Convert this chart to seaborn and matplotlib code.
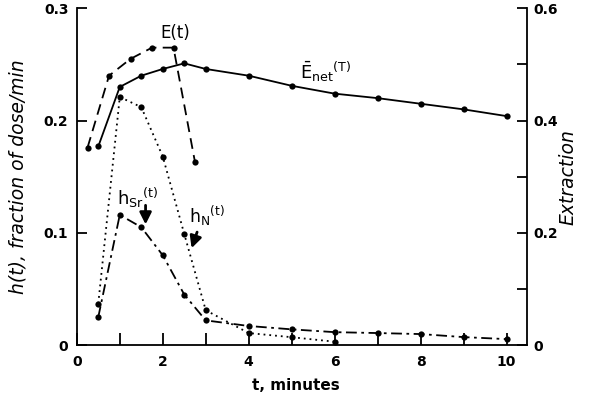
import matplotlib
matplotlib.use("Agg")
import matplotlib.pyplot as plt
import seaborn as sns

# === Data ===
# E(t), extraction (right axis)
t_E = [0.25, 0.75, 1.25, 1.75, 2.25, 2.75]
E_t = [0.352, 0.48, 0.51, 0.53, 0.53, 0.326]

# E_net(T), extraction (right axis)
t_Enet = [0.5, 1.0, 1.5, 2.0, 2.5, 3.0, 4.0, 5.0, 6.0, 7.0, 8.0, 9.0, 10.0]
E_net = [0.354, 0.46, 0.48, 0.492, 0.502, 0.492, 0.48, 0.462, 0.448, 0.44, 0.43, 0.42, 0.408]

# h_N(t), fraction of dose/min (left axis)
t_hN = [0.5, 1.0, 1.5, 2.0, 2.5, 3.0, 4.0, 5.0, 6.0]
h_N = [0.037, 0.221, 0.212, 0.168, 0.099, 0.031, 0.0107, 0.007, 0.003]

# h_Sr(t), fraction of dose/min (left axis)
t_hSr = [0.5, 1.0, 1.5, 2.0, 2.5, 3.0, 4.0, 5.0, 6.0, 7.0, 8.0, 9.0, 10.0]
h_Sr = [0.025, 0.116, 0.105, 0.080, 0.045, 0.022, 0.017, 0.014, 0.0115, 0.0107, 0.0098, 0.0071, 0.0053]

x_ticks = list(range(0, 11))
x_labels = ["0", "", "2", "", "4", "", "6", "", "8", "", "10"]
left_ticks = [0, 0.1, 0.2, 0.3]
left_labels = ["0", "0.1", "0.2", "0.3"]
right_ticks = [0, 0.1, 0.2, 0.3, 0.4, 0.5, 0.6]
right_labels = ["0", "", "0.2", "", "0.4", "", "0.6"]

sns.set_style("ticks")
plt.rcParams["font.family"] = ["DejaVu Sans"]
plt.rcParams["mathtext.fontset"] = "dejavusans"
for key in ["text.color", "axes.labelcolor", "xtick.color", "ytick.color", "axes.edgecolor"]:
    plt.rcParams[key] = "black"

fig = plt.figure(figsize=(6.0, 3.98), dpi=100)
ax = fig.add_axes([0.128, 0.133, 0.75, 0.846])
ax2 = ax.twinx()
ax2.set_position([0.128, 0.133, 0.75, 0.846])

line_kw = dict(color="black", marker="o", markersize=4.5, markeredgewidth=0, linewidth=1.3)

# h curves on left axis
sns.lineplot(x=t_hN, y=h_N, ax=ax, linestyle=(0, (1, 2.2)), **line_kw)
sns.lineplot(x=t_hSr, y=h_Sr, ax=ax, linestyle=(0, (6, 2.5, 1.5, 2.5)), **line_kw)

# extraction curves on right axis
sns.lineplot(x=t_E, y=E_t, ax=ax2, linestyle=(0, (6, 3.5)), **line_kw)
sns.lineplot(x=t_Enet, y=E_net, ax=ax2, linestyle="-", **line_kw)

ax.set_xlim(0, 10.47)
ax.set_ylim(0, 0.3)
ax2.set_ylim(0, 0.6)

ax.set_xticks(x_ticks)
ax.set_xticklabels(x_labels)
ax.set_yticks(left_ticks)
ax.set_yticklabels(left_labels)
ax2.set_yticks(right_ticks)
ax2.set_yticklabels(right_labels)

ax.tick_params(axis="x", direction="in", length=9, width=1.3, pad=7, labelsize=10)
ax.tick_params(axis="y", direction="in", length=7, width=1.3, pad=6, labelsize=10)
ax2.tick_params(axis="y", direction="in", length=7, width=1.3, pad=5, labelsize=10)
for lab in ax.get_xticklabels() + ax.get_yticklabels() + ax2.get_yticklabels():
    lab.set_fontweight("bold")

for s in ["top", "right"]:
    ax.spines[s].set_visible(False)
for s in ["top", "left", "bottom"]:
    ax2.spines[s].set_visible(False)
ax.spines["left"].set_bounds(0, 0.3)
ax2.spines["right"].set_bounds(0, 0.6)
for sp in [ax.spines["left"], ax.spines["bottom"], ax2.spines["right"]]:
    sp.set_linewidth(1.3)
    sp.set_color("black")

ax.set_xlabel("t, minutes", fontsize=11, fontweight="bold")
ax.xaxis.set_label_coords(0.487, -0.098)
ax.set_ylabel("h(t), fraction of dose/min", fontsize=13.5, fontstyle="italic", labelpad=12)
ax2.set_ylabel("Extraction", fontsize=13.5, fontstyle="italic", labelpad=0)

# curve labels
ax.text(2.3, 0.278, "E(t)", fontsize=12, ha="center", va="center")
ax.text(5.2, 0.243, r"$\bar{\mathrm{E}}_{\mathrm{net}}{}^{(\mathrm{T})}$", fontsize=13, ha="left", va="center")
ax.text(0.93, 0.131, r"$\mathrm{h_{Sr}{}^{(t)}}$", fontsize=13, ha="left", va="center")
ax.text(2.6, 0.115, r"$\mathrm{h_{N}{}^{(t)}}$", fontsize=12.5, ha="left", va="center")

arrow_kw = dict(arrowstyle="-|>,head_width=0.35,head_length=0.7", color="black", lw=2)
ax.annotate("", xy=(1.6, 0.105), xytext=(1.6, 0.127), arrowprops=arrow_kw)
ax.annotate("", xy=(2.65, 0.084), xytext=(2.82, 0.103), arrowprops=arrow_kw)

plt.savefig("out.png", dpi=100)
plt.close()
